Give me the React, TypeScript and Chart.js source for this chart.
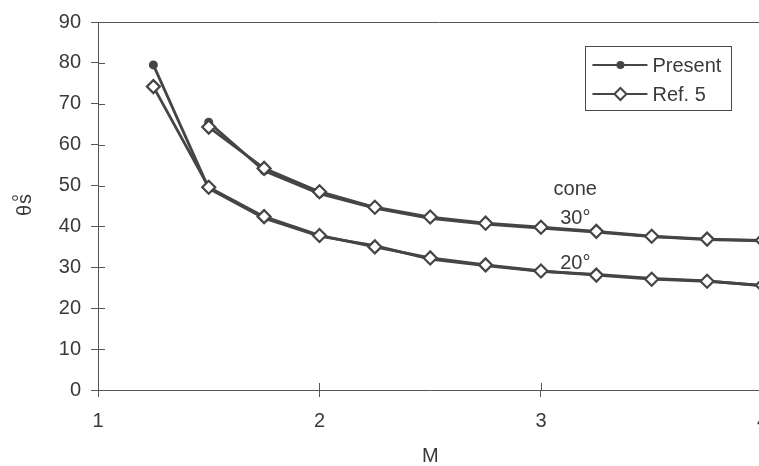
import React, { useEffect, useRef } from 'react';
import { Chart, registerables } from 'chart.js';

Chart.register(...registerables);

// ---- data ----
const machCone20 = [1.25, 1.5, 1.75, 2, 2.25, 2.5, 2.75, 3, 3.25, 3.5, 3.75, 4];
const presentCone20 = [79.5, 49.3, 42.0, 37.6, 35.3, 32.0, 30.4, 29.0, 28.3, 27.3, 26.7, 25.5];
const ref5Cone20 = [74.2, 49.6, 42.4, 37.8, 35.0, 32.3, 30.6, 29.1, 28.1, 27.1, 26.6, 25.6];

const machCone30 = [1.5, 1.75, 2, 2.25, 2.5, 2.75, 3, 3.25, 3.5, 3.75, 4];
const presentCone30 = [65.5, 53.6, 48.0, 44.5, 42.0, 40.6, 39.6, 38.6, 37.5, 36.8, 36.5];
const ref5Cone30 = [64.3, 54.2, 48.5, 44.7, 42.3, 40.8, 39.8, 38.8, 37.6, 36.9, 36.6];

const xTicks = [1, 2, 3, 4];
const yTicks = [0, 10, 20, 30, 40, 50, 60, 70, 80, 90];
const seriesLabels = ['Present', 'Ref. 5'];
const xTitle = 'M';

const INK = '#3a3a3a';
const LINE = '#454545';
const FONT = "'Liberation Sans', Arial, sans-serif";

const toPoints = (xs: number[], ys: number[]) => xs.map((x, i) => ({ x, y: ys[i] }));

const decorPlugin = {
  id: 'decor',
  beforeDatasetsDraw(chart: any) {
    const { ctx, chartArea: ca, scales } = chart;
    const xs = scales.x;
    const ys = scales.y;
    ctx.save();
    ctx.strokeStyle = '#555';
    ctx.lineWidth = 1;
    // top border
    ctx.beginPath();
    ctx.moveTo(ca.left, ca.top + 0.5);
    ctx.lineTo(ca.right + 20, ca.top + 0.5);
    ctx.stroke();
    // inner tick marks
    ctx.beginPath();
    yTicks.forEach((v) => {
      const py = Math.round(ys.getPixelForValue(v)) + 0.5;
      ctx.moveTo(ca.left, py);
      ctx.lineTo(ca.left + 7, py);
    });
    xTicks.forEach((v) => {
      const px = Math.round(xs.getPixelForValue(v)) + 0.5;
      ctx.moveTo(px, ca.bottom);
      ctx.lineTo(px, ca.bottom - 7);
    });
    ctx.stroke();
    ctx.restore();
  },
  afterDraw(chart: any) {
    const { ctx, chartArea: ca, scales } = chart;
    const xs = scales.x;
    const ys = scales.y;
    ctx.save();
    ctx.fillStyle = INK;
    ctx.font = `20px ${FONT}`;
    ctx.textBaseline = 'alphabetic';
    ctx.textAlign = 'center';
    // curve annotations
    ctx.fillText('cone', xs.getPixelForValue(3.155), ys.getPixelForValue(47.8));
    ctx.fillText('30°', xs.getPixelForValue(3.155), ys.getPixelForValue(40.6));
    ctx.fillText('20°', xs.getPixelForValue(3.155), ys.getPixelForValue(29.7));

    // y axis title  θ°s rotated
    ctx.save();
    ctx.translate(31, 216);
    ctx.rotate(-Math.PI / 2);
    ctx.textAlign = 'left';
    ctx.fillText('θ', 0, 0);
    ctx.fillText('s', 12, 0);
    ctx.fillText('°', 14, -4);
    ctx.restore();

    // legend
    const bx = ca.right - 177;
    const by = ca.top + 24;
    const bw = 146;
    const bh = 64;
    ctx.strokeStyle = '#4a4a4a';
    ctx.lineWidth = 1;
    ctx.strokeRect(Math.round(bx) + 0.5, Math.round(by) + 0.5, bw, bh);
    const rows = [by + 19, by + 48];
    rows.forEach((ry, i) => {
      ctx.strokeStyle = LINE;
      ctx.lineWidth = 2;
      ctx.beginPath();
      ctx.moveTo(bx + 7, ry);
      ctx.lineTo(bx + 62, ry);
      ctx.stroke();
      const mx = bx + 35;
      if (i === 0) {
        ctx.fillStyle = LINE;
        ctx.beginPath();
        ctx.arc(mx, ry, 4, 0, Math.PI * 2);
        ctx.fill();
      } else {
        ctx.fillStyle = '#fff';
        ctx.lineWidth = 2;
        ctx.beginPath();
        ctx.moveTo(mx, ry - 6);
        ctx.lineTo(mx + 6, ry);
        ctx.lineTo(mx, ry + 6);
        ctx.lineTo(mx - 6, ry);
        ctx.closePath();
        ctx.fill();
        ctx.stroke();
      }
      ctx.fillStyle = INK;
      ctx.textAlign = 'left';
      ctx.textBaseline = 'middle';
      ctx.fillText(seriesLabels[i], bx + 67, ry + 1);
    });
    ctx.restore();
  },
};

export default function App() {
  const ref = useRef<HTMLCanvasElement | null>(null);

  useEffect(() => {
    if (!ref.current) return;
    const presentStyle = {
      borderColor: LINE,
      backgroundColor: LINE,
      borderWidth: 2.8,
      pointStyle: 'circle',
      pointRadius: 4.5,
      pointBorderWidth: 0,
      pointBackgroundColor: LINE,
      tension: 0,
      order: 1,
    };
    const refStyle = {
      borderColor: LINE,
      backgroundColor: '#fff',
      borderWidth: 2.8,
      pointStyle: 'rectRot',
      pointRadius: 6.5,
      pointBorderWidth: 2.2,
      pointBorderColor: LINE,
      pointBackgroundColor: '#fff',
      tension: 0,
      order: 0,
    };
    const chart = new Chart(ref.current, {
      type: 'line',
      data: {
        datasets: [
          { label: seriesLabels[0] + ' 20', data: toPoints(machCone20, presentCone20), ...presentStyle },
          { label: seriesLabels[0] + ' 30', data: toPoints(machCone30, presentCone30), ...presentStyle },
          { label: seriesLabels[1] + ' 20', data: toPoints(machCone20, ref5Cone20), ...refStyle },
          { label: seriesLabels[1] + ' 30', data: toPoints(machCone30, ref5Cone30), ...refStyle },
        ] as any,
      },
      options: {
        animation: false,
        responsive: false,
        devicePixelRatio: 1,
        layout: { padding: { top: 19, right: 17, left: 0, bottom: 0 } },
        plugins: { legend: { display: false }, tooltip: { enabled: false } },
        scales: {
          x: {
            type: 'linear',
            min: 1,
            max: 4,
            afterBuildTicks: (s: any) => {
              s.ticks = xTicks.map((v) => ({ value: v }));
            },
            afterFit: (s: any) => {
              s.height = 76;
            },
            border: { display: true, color: '#555', width: 1 },
            grid: { drawOnChartArea: false, drawTicks: true, tickLength: 7, color: '#555' },
            ticks: { color: INK, font: { family: FONT, size: 20 }, padding: 12, maxRotation: 0 },
            title: {
              display: true,
              text: xTitle,
              color: INK,
              font: { family: FONT, size: 20, lineHeight: 1 },
              padding: { top: 0, bottom: 0 },
            },
          },
          y: {
            type: 'linear',
            min: 0,
            max: 90,
            afterBuildTicks: (s: any) => {
              s.ticks = yTicks.map((v) => ({ value: v }));
            },
            afterFit: (s: any) => {
              s.width = 98;
            },
            border: { display: true, color: '#555', width: 1 },
            grid: { drawOnChartArea: false, drawTicks: true, tickLength: 7, color: '#555' },
            ticks: { color: INK, font: { family: FONT, size: 20 }, padding: 10 },
          },
        },
      },
      plugins: [decorPlugin],
    });
    return () => chart.destroy();
  }, []);

  return (
    <div
      style={{
        position: 'fixed',
        left: 0,
        top: 0,
        width: 759,
        height: 466,
        overflow: 'hidden',
        background: '#fff',
      }}
    >
      <canvas ref={ref} width={780} height={466} style={{ display: 'block', width: 780, height: 466 }} />
    </div>
  );
}
